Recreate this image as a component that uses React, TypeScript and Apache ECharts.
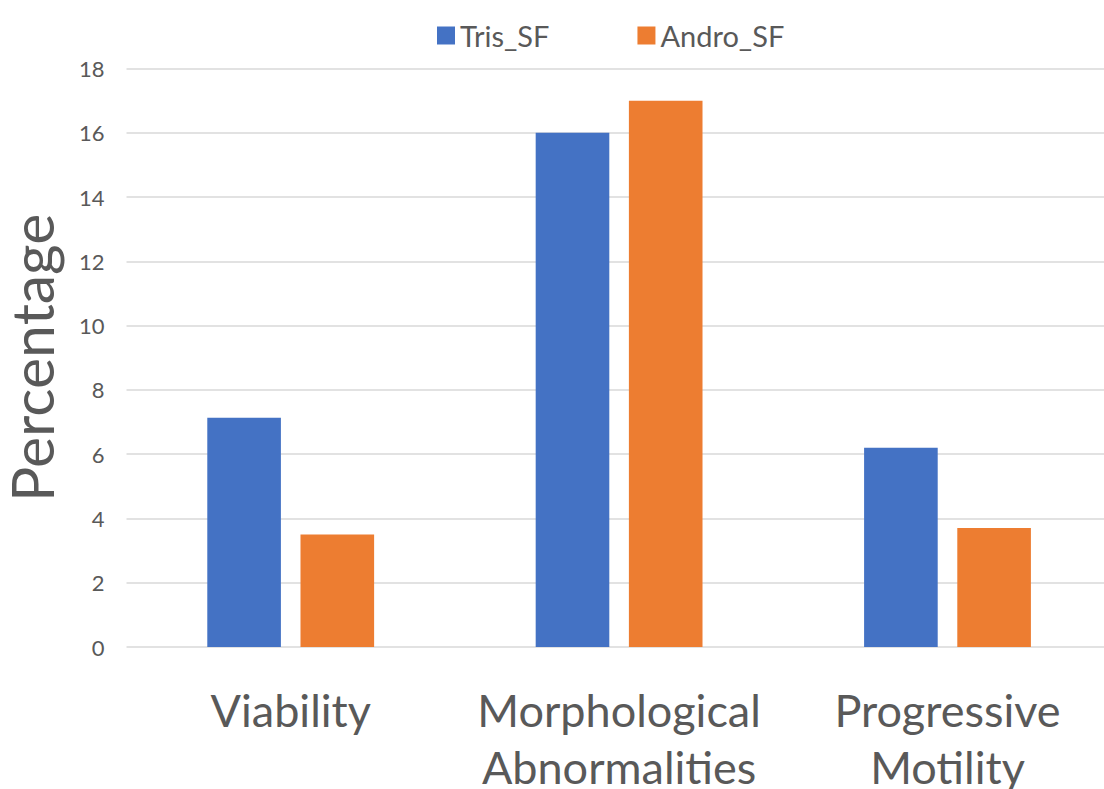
import React, { useEffect, useRef } from "react";
import * as echarts from "echarts";

const categories = ["Viability", "Morphological\nAbnormalities", "Progressive\nMotility"];
const trisValues = [7.13, 16, 6.2];
const androValues = [3.5, 17, 3.7];
const yTicks = { min: 0, max: 18, interval: 2 };

export default function App() {
  const ref = useRef<HTMLDivElement>(null);
  useEffect(() => {
    if (!ref.current) return;
    const chart = echarts.init(ref.current, undefined, { renderer: "svg" });
    const font = "Lato";
    chart.setOption({
      animation: false,
      backgroundColor: "#ffffff",
      textStyle: { fontFamily: font },
      legend: {
        left: 432,
        top: 16,
        itemWidth: 18,
        itemHeight: 18,
        itemGap: 88,
        icon: "rect",
        textStyle: { fontSize: 29, color: "#595959", fontFamily: font },
        data: ["Tris_SF", "Andro_SF"],
      },
      grid: {
        left: 126.5,
        right: -7.7,
        top: 68.5,
        bottom: 142,
        containLabel: false,
        outerBoundsMode: "none",
      },
      xAxis: {
        type: "category",
        data: categories,
        axisLine: { show: false },
        axisTick: { show: false },
        axisLabel: {
          margin: 34,
          fontSize: 45,
          lineHeight: 57,
          color: "#595959",
          fontFamily: font,
          interval: 0,
        },
      },
      yAxis: {
        type: "value",
        min: yTicks.min,
        max: yTicks.max,
        interval: yTicks.interval,
        name: "Percentage",
        nameLocation: "middle",
        nameRotate: 90,
        nameGap: 65,
        nameTextStyle: { fontSize: 59, lineHeight: 60, color: "#595959", fontFamily: font },
        axisLine: { show: false },
        axisTick: { show: false },
        axisLabel: { margin: 22, fontSize: 22, color: "#595959", fontFamily: font },
        splitLine: { lineStyle: { color: "#D9D9D9", width: 1.5 } },
      },
      series: [
        {
          name: "Tris_SF",
          type: "bar",
          data: trisValues,
          itemStyle: { color: "#4472C4" },
          barGap: "26.6%",
          barCategoryGap: "49.2%",
        },
        {
          name: "Andro_SF",
          type: "bar",
          data: androValues,
          itemStyle: { color: "#ED7D31" },
          barGap: "26.6%",
          barCategoryGap: "49.2%",
        },
      ],
    });
    return () => chart.dispose();
  }, []);
  return (
    <div
      ref={ref}
      style={{ position: "absolute", left: 0, top: 0, width: 1104, height: 789, overflow: "hidden" }}
    />
  );
}
